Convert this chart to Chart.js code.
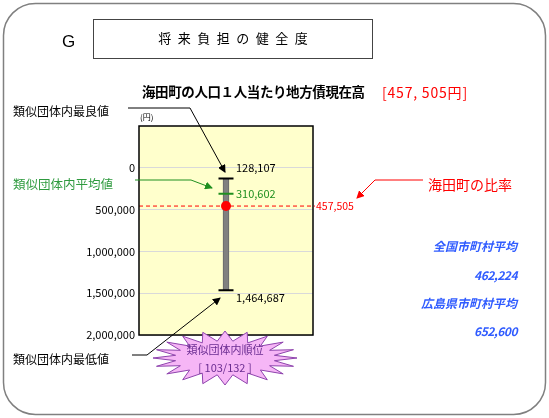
<!DOCTYPE html>
<html><head><meta charset="utf-8">
<script src="https://cdn.jsdelivr.net/npm/chart.js@4.4.1/dist/chart.umd.min.js"></script>
<style>
html,body{margin:0;padding:0;background:#fff;}
#wrap{position:relative;width:549px;height:418px;overflow:hidden;font-family:"Noto Sans CJK JP","Noto Sans",sans-serif;}
#c{position:absolute;left:0;top:0;}
svg{position:absolute;left:0;top:0;}
.t{position:absolute;white-space:nowrap;line-height:1;}
</style></head>
<body>
<div id="wrap">
<canvas id="c" width="549" height="418"></canvas>
<svg id="deco" width="549" height="418" xmlns="http://www.w3.org/2000/svg">
  <defs>
    <marker id="ak" markerWidth="8" markerHeight="8" refX="7" refY="4" orient="auto" markerUnits="userSpaceOnUse"><path d="M0,0 L8,4 L0,8 z" fill="#000"/></marker>
    <marker id="ag" markerWidth="8" markerHeight="8" refX="7" refY="4" orient="auto" markerUnits="userSpaceOnUse"><path d="M0,0 L8,4 L0,8 z" fill="#1f8f1f"/></marker>
    <marker id="ar" markerWidth="8" markerHeight="8" refX="7" refY="4" orient="auto" markerUnits="userSpaceOnUse"><path d="M0,0 L8,4 L0,8 z" fill="#ff0000"/></marker>
  </defs>
  <rect x="3.5" y="3.5" width="542" height="411" rx="32" ry="32" fill="none" stroke="#808080" stroke-width="1.5"/>
  <rect x="93.5" y="19.5" width="279" height="39" fill="none" stroke="#444" stroke-width="1"/>
  <polyline points="128,108 190,108 225,172" fill="none" stroke="#000" stroke-width="1" marker-end="url(#ak)"/>
  <polyline points="135,180 191,180 212,188" fill="none" stroke="#1f8f1f" stroke-width="1" marker-end="url(#ag)"/>
  <polyline points="423,180 375,180 357,198" fill="none" stroke="#ff0000" stroke-width="1" marker-end="url(#ar)"/>
  <polyline points="132,355 147,355 220,298" fill="none" stroke="#000" stroke-width="1" marker-end="url(#ak)"/>
  <polygon id="star" fill="#f6b6f6" stroke="#8e44ad" stroke-width="1"/>
</svg>
<div class="t" style="left:62px;top:33px;font-size:17px;font-family:'Liberation Sans',sans-serif;">G</div>
<div class="t" style="left:93px;top:31px;width:280px;text-align:center;font-size:13px;letter-spacing:6.5px;text-indent:6.5px;">将来負担の健全度</div>
<div class="t" style="left:142px;top:85px;font-size:13.5px;font-weight:bold;letter-spacing:-0.4px;">海田町の人口１人当たり地方債現在高</div>
<div class="t" style="left:382px;top:85px;font-size:14px;color:#ff0000;letter-spacing:0.8px;">[457, 505円]</div>
<div class="t" style="left:13px;top:105px;font-size:12px;">類似団体内最良値</div>
<div class="t" style="left:140px;top:113px;font-size:8px;">(円)</div>
<div class="t" style="left:13px;top:178px;font-size:12.5px;color:#2e9a3e;">類似団体内平均値</div>
<div class="t" style="left:428px;top:177px;font-size:14px;color:#ff0000;">海田町の比率</div>
<div class="t" style="right:32px;top:240px;font-size:12px;color:#2f5bff;font-style:italic;font-weight:bold;text-align:right;">全国市町村平均</div>
<div class="t" style="right:32px;top:269px;font-size:12px;color:#2f5bff;font-style:italic;font-weight:bold;text-align:right;letter-spacing:-0.5px;">462,224</div>
<div class="t" style="right:32px;top:297px;font-size:12px;color:#2f5bff;font-style:italic;font-weight:bold;text-align:right;">広島県市町村平均</div>
<div class="t" style="right:32px;top:325px;font-size:12px;color:#2f5bff;font-style:italic;font-weight:bold;text-align:right;letter-spacing:-0.5px;">652,600</div>
<div class="t" style="left:13px;top:353px;font-size:12px;">類似団体内最低値</div>
<div class="t" style="left:165px;top:344px;width:120px;text-align:center;font-size:11px;color:#6a2c91;">類似団体内順位</div>
<div class="t" style="left:165px;top:362px;width:120px;text-align:center;font-size:11px;color:#6a2c91;">[ 103/132 ]</div>
</div>
<script>
// ---- data ----
const categories = ['海田町'];
const bestValues = [128107];
const worstValues = [1464687];
const averageValues = [310602];
const townValues = [457505];
const yTickValues = [0, 500000, 1000000, 1500000, 2000000];
const yMin = -500000;
const yMax = 2000000;

// starburst decoration
(function(){
  const cx=225, cy=358, n=20, pts=[];
  for(let i=0;i<n*2;i++){
    const a=Math.PI*2*i/(n*2);
    const outer=i%2===0;
    const rx=outer?72:50, ry=outer?27:17;
    pts.push((cx+rx*Math.cos(a)).toFixed(1)+','+(cy+ry*Math.sin(a)).toFixed(1));
  }
  document.getElementById('star').setAttribute('points',pts.join(' '));
})();

const fmt = v => v.toLocaleString('en-US');

const plotPlugin = {
  id:'plotPlugin',
  beforeDraw(chart){
    const {ctx, chartArea:a} = chart;
    ctx.save();
    ctx.fillStyle='#ffffcc';
    ctx.fillRect(a.left,a.top,a.right-a.left,a.bottom-a.top);
    ctx.restore();
  },
  beforeDatasetsDraw(chart){
    const {ctx, chartArea:a, scales:{y}} = chart;
    const py = y.getPixelForValue(townValues[0]);
    ctx.save();
    ctx.strokeStyle='#ff0000';
    ctx.lineWidth=1;
    ctx.setLineDash([4,3]);
    ctx.beginPath();
    ctx.moveTo(a.left,py);
    ctx.lineTo(a.right+2,py);
    ctx.stroke();
    ctx.restore();
  },
  afterDraw(chart){
    const {ctx, chartArea:a, scales:{x,y}} = chart;
    ctx.save();
    ctx.strokeStyle='#000';
    ctx.lineWidth=1.5;
    ctx.strokeRect(a.left,a.top,a.right-a.left,a.bottom-a.top);
    const px = x.getPixelForValue(0);
    ctx.font='11px "Noto Sans CJK JP", sans-serif';
    ctx.textBaseline='middle';
    ctx.textAlign='left';
    ctx.fillStyle='#000';
    ctx.fillText(fmt(bestValues[0]), px+10, y.getPixelForValue(bestValues[0])-11);
    ctx.fillText(fmt(worstValues[0]), px+10, y.getPixelForValue(worstValues[0])+8);
    ctx.fillStyle='#1f8f1f';
    ctx.fillText(fmt(averageValues[0]), px+10, y.getPixelForValue(averageValues[0]));
    ctx.fillStyle='#ff0000';
    ctx.font='10.5px "Noto Sans CJK JP", sans-serif';
    ctx.fillText(fmt(townValues[0]), a.right+3, y.getPixelForValue(townValues[0]));
    ctx.restore();
  }
};

new Chart(document.getElementById('c'), {
  type:'bar',
  data:{
    labels:categories,
    datasets:[
      {type:'line', data:townValues, showLine:false, pointStyle:'circle', pointRadius:5, pointBackgroundColor:'#ff0000', pointBorderColor:'#ff0000', borderWidth:0, order:0},
      {type:'line', data:averageValues, showLine:false, pointStyle:'line', pointRadius:7.5, borderColor:'#1f8f1f', pointBorderColor:'#1f8f1f', pointBorderWidth:2, order:1},
      {type:'line', data:bestValues, showLine:false, pointStyle:'line', pointRadius:7.5, borderColor:'#000', pointBorderColor:'#000', pointBorderWidth:2, order:1},
      {type:'line', data:worstValues, showLine:false, pointStyle:'line', pointRadius:7.5, borderColor:'#000', pointBorderColor:'#000', pointBorderWidth:2, order:1},
      {type:'bar', data:categories.map((c,i)=>[bestValues[i], worstValues[i]]), backgroundColor:'#808080', borderColor:'#666', borderWidth:{left:1,right:1,top:0,bottom:0}, borderSkipped:false, barThickness:6, order:2}
    ]
  },
  options:{
    responsive:false,
    animation:false,
    events:[],
    layout:{padding:{left:0,right:236,top:126,bottom:83}},
    plugins:{legend:{display:false}, tooltip:{enabled:false}},
    scales:{
      x:{display:false},
      y:{
        reverse:true, min:yMin, max:yMax,
        afterFit(s){ s.width = 139; },
        afterBuildTicks(s){ s.ticks = yTickValues.map(v=>({value:v})); },
        ticks:{ callback:v=>fmt(v), color:'#000', padding:4, font:{size:11, family:'"Noto Sans CJK JP", sans-serif'} },
        grid:{ color:'#d9d9d9', drawTicks:false },
        border:{display:false}
      }
    }
  },
  plugins:[plotPlugin]
});
</script>
</body></html>
